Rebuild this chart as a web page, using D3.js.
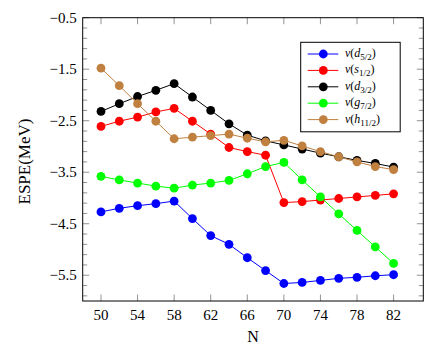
<!DOCTYPE html>
<html>
<head>
<meta charset="utf-8">
<script src="https://cdn.jsdelivr.net/npm/d3@7"></script>
<style>
  body { margin: 0; background: #fff; }
  text { font-family: "Liberation Serif", "Times New Roman", Tinos, "Noto Serif", "DejaVu Serif", Times, serif; fill: #000; }
</style>
</head>
<body>
<svg id="chart"></svg>
<script>
const width = 430;
const height = 354;

// data
const neutrons = [50, 52, 54, 56, 58, 60, 62, 64, 66, 68, 70, 72, 74, 76, 78, 80, 82];
const d52 = [-4.27, -4.20, -4.15, -4.11, -4.06, -4.40, -4.73, -4.90, -5.16, -5.41, -5.66, -5.64, -5.60, -5.56, -5.54, -5.51, -5.49];
const s12 = [-2.61, -2.51, -2.43, -2.33, -2.26, -2.51, -2.76, -3.02, -3.10, -3.17, -4.09, -4.07, -4.04, -4.01, -3.98, -3.95, -3.92];
const d32 = [-2.32, -2.17, -2.03, -1.91, -1.78, -2.04, -2.30, -2.56, -2.78, -2.89, -2.97, -3.05, -3.13, -3.20, -3.27, -3.33, -3.40];
const g72 = [-3.58, -3.65, -3.71, -3.77, -3.81, -3.75, -3.71, -3.66, -3.53, -3.39, -3.31, -3.65, -3.98, -4.31, -4.63, -4.95, -5.27];
const h112 = [-1.48, -1.82, -2.17, -2.51, -2.85, -2.82, -2.79, -2.76, -2.84, -2.91, -2.88, -2.99, -3.10, -3.20, -3.30, -3.39, -3.45];

const xTicks = [50, 54, 58, 62, 66, 70, 74, 78, 82];
const yTicks = [-0.5, -1.5, -2.5, -3.5, -4.5, -5.5];

const series = [
  { orb: "d", sub: "5/2", color: "#0000ff", values: d52 },
  { orb: "s", sub: "1/2", color: "#ff0000", values: s12 },
  { orb: "d", sub: "3/2", color: "#000000", values: d32 },
  { orb: "g", sub: "7/2", color: "#00ff00", values: g72 },
  { orb: "h", sub: "11/2", color: "#bf8040", values: h112 }
];

const svg = d3.select('#chart').attr('width', width).attr('height', height);

const x = d3.scaleLinear().domain([48, 85.25]).range([82.7, 423.3]);
const y = d3.scaleLinear().domain([-6, -0.5]).range([301, 17.7]);

const plotLeft = x.range()[0], plotRight = x.range()[1];
const plotTop = y.range()[1], plotBottom = y.range()[0];

// minor y ticks every 0.2
const yMinor = d3.range(-0.5, -6.0001, -0.2).filter(v => !yTicks.some(t => Math.abs(t - v) < 1e-6));

const tickGroup = svg.append('g').attr('stroke', '#777').attr('stroke-width', 0.8);

xTicks.forEach(t => {
  tickGroup.append('line').attr('x1', x(t)).attr('x2', x(t)).attr('y1', plotBottom).attr('y2', plotBottom - 6.5);
  tickGroup.append('line').attr('x1', x(t)).attr('x2', x(t)).attr('y1', plotTop).attr('y2', plotTop + 6.5);
});
yTicks.forEach(t => {
  tickGroup.append('line').attr('x1', plotLeft).attr('x2', plotLeft + 6.5).attr('y1', y(t)).attr('y2', y(t));
  tickGroup.append('line').attr('x1', plotRight).attr('x2', plotRight - 6.5).attr('y1', y(t)).attr('y2', y(t));
});
yMinor.forEach(t => {
  tickGroup.append('line').attr('x1', plotLeft).attr('x2', plotLeft + 4.5).attr('y1', y(t)).attr('y2', y(t));
  tickGroup.append('line').attr('x1', plotRight).attr('x2', plotRight - 4.5).attr('y1', y(t)).attr('y2', y(t));
});

// tick labels
svg.append('g').selectAll('text').data(xTicks).enter().append('text')
  .attr('x', d => x(d)).attr('y', plotBottom + 19)
  .attr('text-anchor', 'middle').attr('font-size', 15)
  .text(d => d);

const fmt = d3.format('.1f');
svg.append('g').selectAll('text').data(yTicks).enter().append('text')
  .attr('x', plotLeft - 6).attr('y', d => y(d) + 5)
  .attr('text-anchor', 'end').attr('font-size', 15)
  .text(d => fmt(d));

// axis labels
svg.append('text').attr('x', (plotLeft + plotRight) / 2).attr('y', 342)
  .attr('text-anchor', 'middle').attr('font-size', 16).text('N');
svg.append('text')
  .attr('transform', `translate(30,161.5) rotate(-90)`)
  .attr('text-anchor', 'middle').attr('font-size', 17).text('ESPE(MeV)');

// lines and markers
const line = d3.line().x((d, i) => x(neutrons[i])).y(d => y(d));
const plot = svg.append('g');
series.forEach(s => {
  const g = plot.append('g');
  g.append('path').datum(s.values)
    .attr('d', line).attr('fill', 'none')
    .attr('stroke', s.color).attr('stroke-width', 1);
  g.selectAll('circle').data(s.values).enter().append('circle')
    .attr('cx', (d, i) => x(neutrons[i])).attr('cy', d => y(d))
    .attr('r', 4.4).attr('fill', s.color);
});

// frame
svg.append('rect')
  .attr('x', plotLeft).attr('y', plotTop)
  .attr('width', plotRight - plotLeft).attr('height', plotBottom - plotTop)
  .attr('fill', 'none').attr('stroke', '#000').attr('stroke-width', 1);

// legend
const legend = svg.append('g');
legend.append('rect')
  .attr('x', 300.7).attr('y', 42.3).attr('width', 99.5).attr('height', 89.5)
  .attr('fill', '#fff').attr('stroke', '#000').attr('stroke-width', 1);
series.forEach((s, i) => {
  const ly = 54 + i * 16.4;
  legend.append('line').attr('x1', 307.7).attr('x2', 338.3).attr('y1', ly).attr('y2', ly)
    .attr('stroke', s.color).attr('stroke-width', 1);
  legend.append('circle').attr('cx', 323.3).attr('cy', ly).attr('r', 4.4).attr('fill', s.color);
  const t = legend.append('text').attr('x', 345).attr('y', ly + 3).attr('font-size', 12);
  t.append('tspan').attr('font-style', 'italic').text('ν');
  t.append('tspan').text('(');
  t.append('tspan').attr('font-style', 'italic').text(s.orb);
  t.append('tspan').attr('font-size', 9).attr('dy', 3).text(s.sub);
  t.append('tspan').attr('dy', -3).text(')');
});
</script>
</body>
</html>
